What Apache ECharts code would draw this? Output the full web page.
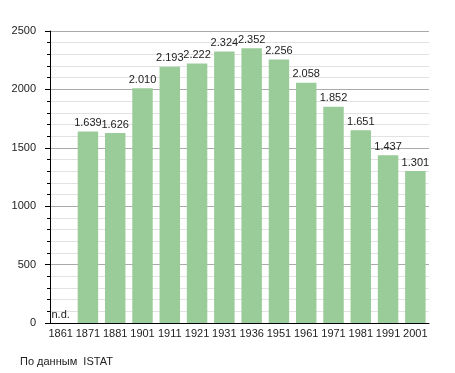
<!DOCTYPE html>
<html><head><meta charset="utf-8">
<script src="https://cdn.jsdelivr.net/npm/echarts@6/dist/echarts.min.js"></script>
<style>html,body{margin:0;padding:0;background:#fff}#c{width:455px;height:373px}</style>
</head><body><div id="c"></div>
<script>
const years = ['1861','1871','1881','1901','1911','1921','1931','1936','1951','1961','1971','1981','1991','2001'];
const population = [null,1639,1626,2010,2193,2222,2324,2352,2256,2058,1852,1651,1437,1301];
const yTicks = [0,500,1000,1500,2000,2500];
const sourceText = 'По данным  ISTAT';

const fmt = v => String(v).replace(/\B(?=(\d{3})+(?!\d))/g, '.');
const chart = echarts.init(document.getElementById('c'), null, {renderer:'canvas'});
const FONT = 'Liberation Sans';
chart.setOption({
  animation:false,
  textStyle:{fontFamily:FONT},
  grid:{left:47,right:26,top:31,bottom:50},
  graphic:[{type:'text',left:20,top:356,style:{text:sourceText,font:'11px "Liberation Sans"',fill:'#222'}}],
  xAxis:{type:'category',data:years,boundaryGap:true,
    axisLine:{lineStyle:{color:'#000',width:1}},axisTick:{show:false},
    axisLabel:{color:'#222',fontSize:11,margin:5,interval:0}},
  yAxis:{type:'value',min:yTicks[0],max:yTicks[yTicks.length-1],interval:500,offset:-3,
    axisLine:{show:true,lineStyle:{color:'#000'}},
    axisTick:{show:true,length:5,lineStyle:{color:'#000'}},
    minorTick:{show:true,splitNumber:5,length:3,lineStyle:{color:'#000'}},
    axisLabel:{color:'#222',fontSize:11,margin:14,formatter:v=>String(v)},
    splitLine:{lineStyle:{color:'#aaa',width:1}},
    minorSplitLine:{show:true,lineStyle:{color:'#e2e2e2',width:1}}},
  series:[{type:'bar',barWidth:'75%',
    itemStyle:{color:'#99cc99'},
    label:{show:true,position:'top',distance:3,color:'#222',fontSize:11,
      formatter:p=>p.data&&p.data.nd?'n.d.':fmt(p.value)},
    data:population.map(v=>v==null?{value:0,nd:true}:v)}]
});
</script></body></html>
